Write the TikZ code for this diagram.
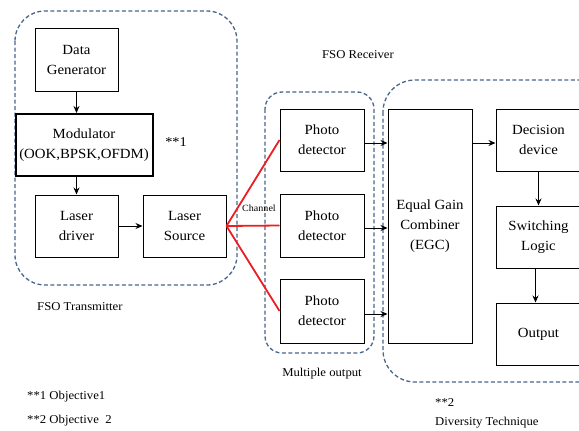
\documentclass[tikz,border=0pt]{standalone}
\usepackage{fontspec}
\setmainfont[FakeStretch=1.06]{Liberation Serif}
\usetikzlibrary{arrows.meta}
\definecolor{dashc}{RGB}{72,102,140}
\definecolor{chred}{RGB}{235,30,35}
\tikzset{
  blk/.style={draw=black, line width=1pt, fill=white, align=center, inner sep=0pt,
    font=\rmfamily\fontsize{14}{20}\selectfont},
  grp/.style={draw=dashc, line width=1.3pt, dash pattern=on 4pt off 2.5pt},
  arr/.style={-{Stealth[length=7pt,width=6pt]}, line width=1pt, black},
  ray/.style={chred, line width=1.8pt},
  lbl/.style={font=\rmfamily\fontsize{12}{14}\selectfont, inner sep=0pt},
}
\begin{document}
\begin{tikzpicture}[x=1pt,y=-1pt]
\useasboundingbox (0,0) rectangle (579,431);
\clip (0,0) rectangle (579,431);
% group outlines
\draw[grp, rounded corners=30pt] (15,11) rectangle (237,285);
\draw[grp, rounded corners=17pt] (265,92) rectangle (374,353);
\draw[grp, rounded corners=32pt] (383,80) rectangle (610,382);
% blocks
\node[blk, minimum width=83pt, minimum height=63pt] (dg) at (76.5,59.5) {Data\\Generator};
\node[blk, line width=2pt, minimum width=137pt, minimum height=62pt] (mod) at (84,145) {Modulator\\(OOK,BPSK,OFDM)};
\node[blk, minimum width=83pt, minimum height=62pt] (ld) at (76.5,226) {Laser\\driver};
\node[blk, minimum width=83pt, minimum height=62pt] (ls) at (184.5,226) {Laser\\Source};
\node[blk, minimum width=84pt, minimum height=62pt] (pd1) at (322,140) {Photo\\detector};
\node[blk, minimum width=84pt, minimum height=63pt] (pd2) at (322,225.5) {Photo\\detector};
\node[blk, minimum width=84pt, minimum height=64pt] (pd3) at (322,311) {Photo\\detector};
\node[blk, minimum width=84pt, minimum height=234pt] (egc) at (430,226) {Equal Gain\\Combiner\\(EGC)};
\node[blk, minimum width=85pt, minimum height=62pt] (dd) at (538.5,140) {Decision\\device};
\node[blk, minimum width=85pt, minimum height=62pt] (sw) at (538.5,237) {Switching\\Logic};
\node[blk, minimum width=85pt, minimum height=62pt] (out) at (538.5,334) {Output};
% arrows
\draw[arr] (dg.south) -- (mod.north -| dg.south);
\draw[arr] (mod.south -| ld.north) -- (ld.north);
\draw[arr] (ld.east) -- (ls.west);
\draw[arr] ([yshift=-3pt]pd1.east) -- ([yshift=-3pt]pd1.east -| egc.west);
\draw[arr] ([yshift=-2.5pt]pd2.east) -- ([yshift=-2.5pt]pd2.east -| egc.west);
\draw[arr] ([yshift=-3pt]pd3.east) -- ([yshift=-3pt]pd3.east -| egc.west);
\draw[arr] ([yshift=-3pt]dd.west -| egc.east) -- ([yshift=-3pt]dd.west);
\draw[arr] (dd.south) -- (sw.north);
\draw[arr] ([xshift=-3pt]sw.south) -- ([xshift=-3pt]out.north);
% channel rays
\draw[ray] (ls.east) -- (pd1.west);
\draw[ray] (ls.east) -- (pd2.west);
\draw[ray] (ls.east) -- (pd3.west);
% labels
\node[lbl, font=\rmfamily\fontsize{13.5}{15}\selectfont] (o1) at (176,142) {**1};
\node[lbl] (rx) at (358,55) {FSO Receiver};
\node[lbl, font=\rmfamily\fontsize{9.5}{11}\selectfont] (ch) at (259,208) {Channel};
\node[lbl] (mo) at (322,374) {Multiple output};
\node[lbl, anchor=west] (o2) at (435,403) {**2};
\node[lbl, anchor=west] (dt) at (435,423) {Diversity Technique};
\node[lbl, anchor=west] (tx) at (37,307) {FSO Transmitter};
\node[lbl, anchor=west] (k1) at (27,397) {**1 Objective1};
\node[lbl, anchor=west] (k2) at (27,421) {**2 Objective\ \ 2};
\end{tikzpicture}
\end{document}
